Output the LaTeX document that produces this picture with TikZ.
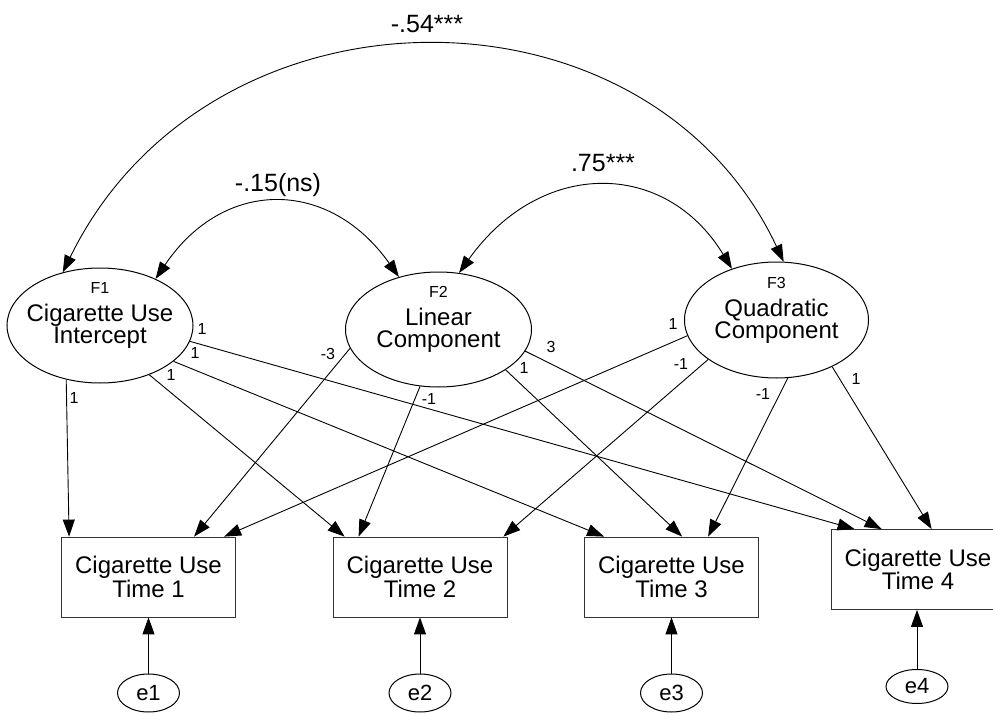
\documentclass[tikz,border=0pt]{standalone}
\usepackage{fontspec}
\setmainfont{Liberation Sans}
\usetikzlibrary{arrows.meta,shapes.geometric}
\begin{document}
\begin{tikzpicture}[x=1pt,y=-1pt,
  latent/.style={draw, ellipse, line width=1pt, minimum width=186pt, minimum height=115pt, inner sep=0pt},
  lvtext/.style={align=center, font=\fontsize{24}{22}\selectfont, inner sep=0pt, yshift=10pt},
  obs/.style={draw=black!80, rectangle, line width=0.8pt, minimum width=174pt, minimum height=80pt, align=center, font=\fontsize{24}{22}\selectfont, inner sep=0pt},
  err/.style={draw, ellipse, line width=1pt, minimum width=62pt, minimum height=38pt, inner sep=0pt, font=\fontsize{22}{22}\selectfont},
  tip/.tip={Triangle[length=17pt,width=12pt]},
  load/.style={-tip, line width=0.9pt},
  cov/.style={tip-tip, line width=0.9pt},
  coef/.style={font=\fontsize{16}{16}\selectfont, inner sep=0pt},
  corr/.style={font=\fontsize{25}{25}\selectfont, inner sep=0pt, anchor=base}
]
\useasboundingbox (0,0) rectangle (993,714);

% latent factors
\node[latent, label={[lvtext]center:{{\fontsize{16}{16}\selectfont F1}\\[6pt]Cigarette Use\\Intercept}}] (F1) at (100,325.5) {};
\node[latent, label={[lvtext]center:{{\fontsize{16}{16}\selectfont F2}\\[6pt]Linear\\Component}}] (F2) at (438.5,329.5) {};
\node[latent, minimum width=184pt, minimum height=116pt, label={[lvtext]center:{{\fontsize{16}{16}\selectfont F3}\\[6pt]Quadratic\\Component}}] (F3) at (776.5,320) {};

% observed variables
\node[obs] (T1) at (148.5,577) {Cigarette Use\\Time 1};
\node[obs] (T2) at (420,577) {Cigarette Use\\Time 2};
\node[obs] (T3) at (671.5,577) {Cigarette Use\\Time 3};
\node[obs] (T4) at (918,569.5) {Cigarette Use\\Time 4};

% errors
\node[err] (e1) at (148.5,693) {e1};
\node[err] (e2) at (420,693) {e2};
\node[err] (e3) at (671.5,693) {e3};
\node[err, minimum height=34pt] (e4) at (917,686.5) {e4};

\draw[load] (e1) -- (T1);
\draw[load] (e2) -- (T2);
\draw[load] (e3) -- (T3);
\draw[load] (e4) -- (e4 |- T4.south);

% covariances
\draw[cov] (F1.125) .. controls +(147,-300) and +(-136,-289) .. (F3.83);
\draw[cov] (F1.40) .. controls +(68,-101) and +(-70,-99) .. (F2.127);
\draw[cov] (F2.70) .. controls +(81,-114) and +(-67,-110) .. (F3.131);
\node[corr] (r13) at (427,33) {-.54***};
\node[corr] (r12) at (278,192) {-.15(ns)};
\node[corr] (r23) at (603,172) {.75***};

% loadings from F1
\draw[load] (F1.238) -- ([xshift=8pt]T1.north west);
\draw[load] (F1.315) -- ([xshift=12pt]T2.north west);
\draw[load] (F1.334) -- ([xshift=20pt]T3.north west);
\draw[load] (F1.350) -- ([xshift=24pt]T4.north west);
% loadings from F2
\draw[load] (F2.192) -- ([xshift=133pt]T1.north west);
\draw[load] (F2.252) -- ([xshift=26pt]T2.north west);
\draw[load] (F2.329) -- ([xshift=98pt]T3.north west);
\draw[load] (F2.346) -- ([xshift=51pt]T4.north west);
% loadings from F3
\draw[load] (F3.190) -- ([xshift=163pt]T1.north west);
\draw[load] (F3.210) -- ([xshift=-4pt]T2.north east);
\draw[load] (F3.281) -- ([xshift=124pt]T3.north west);
\draw[load] (F3.320) -- ([xshift=101pt]T4.north west);

% loading labels
\node[coef] (a4) at (202,329) {1};
\node[coef] (a3) at (195,353) {1};
\node[coef] (a2) at (171,375) {1};
\node[coef] (a1) at (74,398) {1};
\node[coef] (b1) at (328,354) {-3};
\node[coef] (b2) at (429,399) {-1};
\node[coef] (b3) at (524,368) {1};
\node[coef] (b4) at (551,347) {3};
\node[coef] (c1) at (673,324) {1};
\node[coef] (c2) at (681,364) {-1};
\node[coef] (c3) at (763,394) {-1};
\node[coef] (c4) at (856,379) {1};
\end{tikzpicture}
\end{document}
